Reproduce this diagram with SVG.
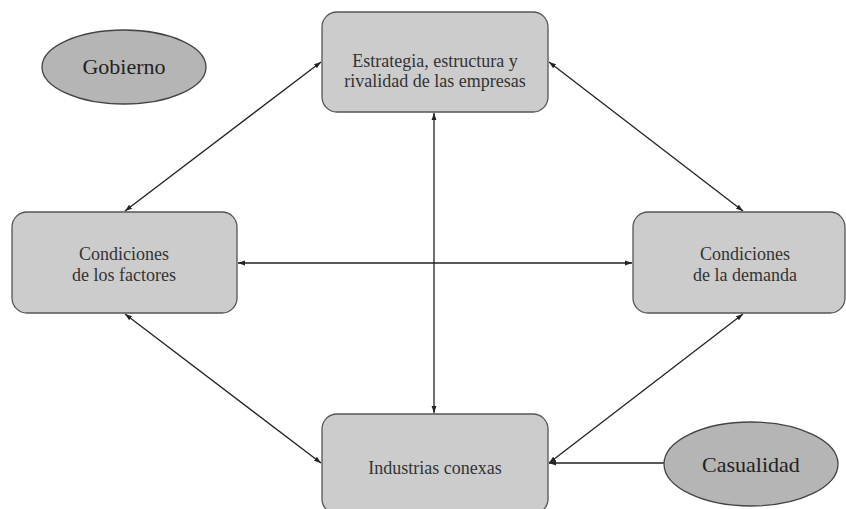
<svg xmlns="http://www.w3.org/2000/svg" width="846" height="509" viewBox="0 0 846 509">
<style>
.box{fill:#cccccc;stroke:#555555;stroke-width:1.3}
.ell{fill:#b5b5b5;stroke:#444444;stroke-width:1.3}
text{font-family:"Liberation Serif","Times New Roman",Times,serif;text-anchor:middle}
.t{font-size:18px;fill:#333333}
.te{font-size:22px;fill:#222222}
.c{stroke:#222222;stroke-width:1.3;fill:none}
</style>
<defs>
<marker id="ah" viewBox="0 0 10 10" refX="10" refY="5" markerWidth="7" markerHeight="7" orient="auto-start-reverse" markerUnits="userSpaceOnUse">
<path d="M0,1.5 L10,5 L0,8.5 z" fill="#222222"/>
</marker>
</defs>
<rect width="846" height="509" fill="#ffffff"/>
<g id="connectors">
<line class="c" x1="321" y1="62" x2="125" y2="211" marker-start="url(#ah)" marker-end="url(#ah)"/>
<line class="c" x1="549" y1="62" x2="743" y2="211" marker-start="url(#ah)" marker-end="url(#ah)"/>
<line class="c" x1="434" y1="113" x2="434" y2="413" marker-start="url(#ah)" marker-end="url(#ah)"/>
<line class="c" x1="238" y1="263" x2="632" y2="263" marker-start="url(#ah)" marker-end="url(#ah)"/>
<line class="c" x1="125" y1="314" x2="321" y2="463" marker-start="url(#ah)" marker-end="url(#ah)"/>
<line class="c" x1="743" y1="314" x2="549" y2="463" marker-start="url(#ah)" marker-end="url(#ah)"/>
<line class="c" x1="664" y1="463" x2="549" y2="463" marker-end="url(#ah)"/>
</g>
<g id="gobierno">
<ellipse class="ell" cx="124" cy="67" rx="82" ry="37"/>
<text class="te" x="124" y="74">Gobierno</text>
</g>
<g id="estrategia">
<rect class="box" x="322" y="12" width="226" height="100" rx="15"/>
<text class="t" x="435" y="67">Estrategia, estructura y</text>
<text class="t" x="435" y="87">rivalidad de las empresas</text>
</g>
<g id="factores">
<rect class="box" x="12" y="212" width="225" height="101" rx="15"/>
<text class="t" x="124" y="260">Condiciones</text>
<text class="t" x="124" y="281">de los factores</text>
</g>
<g id="demanda">
<rect class="box" x="633" y="212" width="212" height="101" rx="15"/>
<text class="t" x="745" y="260">Condiciones</text>
<text class="t" x="745" y="281">de la demanda</text>
</g>
<g id="industrias">
<rect class="box" x="322" y="414" width="226" height="100" rx="15"/>
<text class="t" x="435" y="474">Industrias conexas</text>
</g>
<g id="casualidad">
<ellipse class="ell" cx="751" cy="464" rx="87" ry="42"/>
<text class="te" x="751" y="472">Casualidad</text>
</g>
</svg>
